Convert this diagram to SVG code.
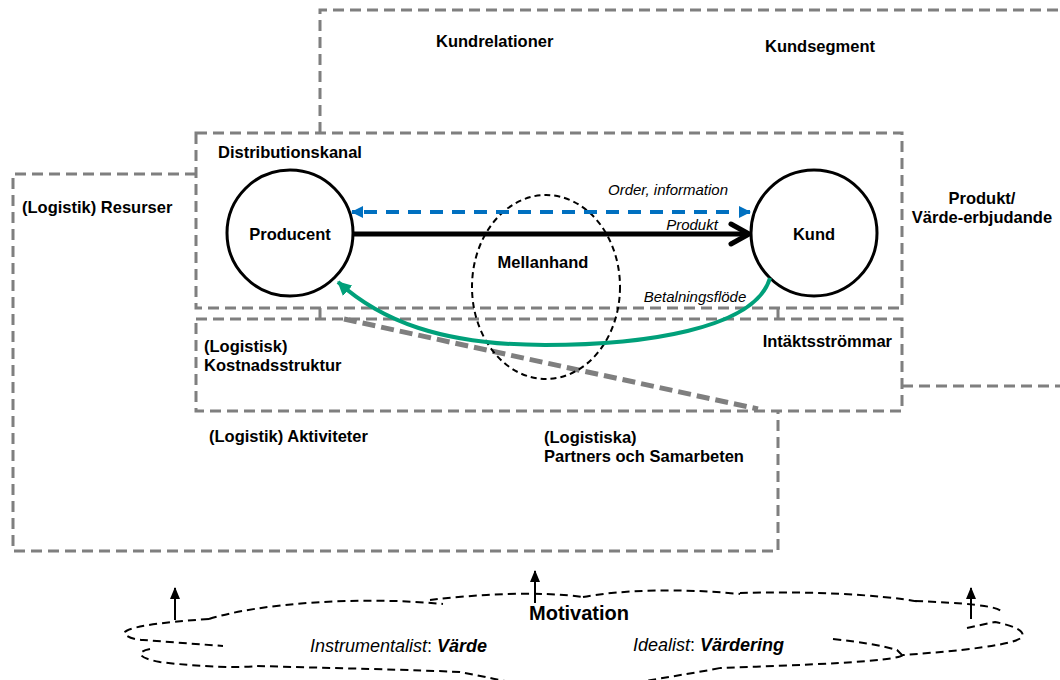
<svg xmlns="http://www.w3.org/2000/svg" width="1060" height="680" viewBox="0 0 1060 680">
<defs>
<style>
.box{fill:none;stroke:#7F7F7F;stroke-width:3;stroke-dasharray:11,6}
.lbl{font-family:"Liberation Sans",Arial,sans-serif;font-weight:bold;font-size:16.5px;fill:#000}
.it{font-family:"Liberation Sans",Arial,sans-serif;font-style:italic;font-size:15px;fill:#000}
.cl{fill:none;stroke:#000;stroke-width:2;stroke-dasharray:8,5}
.up{stroke:#000;stroke-width:2;fill:none}
</style>
<marker id="blueHead" viewBox="0 0 12 12" refX="11" refY="6" markerWidth="12" markerHeight="12" markerUnits="userSpaceOnUse" orient="auto-start-reverse"><path d="M0,0 L12,6 L0,12 z" fill="#0070C0"/></marker>
<marker id="greenHead" viewBox="0 0 14 14" refX="13" refY="7" markerWidth="14" markerHeight="14" markerUnits="userSpaceOnUse" orient="auto"><path d="M0,0 L14,7 L0,14 z" fill="#00A07A"/></marker>
<marker id="upHead" viewBox="0 0 10 12" refX="5" refY="1" markerWidth="10" markerHeight="12" markerUnits="userSpaceOnUse" orient="0"><path d="M5,0 L10,12 L0,12 z" fill="#000"/></marker>
</defs>
<rect width="1060" height="680" fill="#fff"/>

<g id="regions">
<path id="top-shape" class="box" d="M320 133 L320 10 L1064 10 M902 386 L1064 386"/>
<path id="outer-left" class="box" d="M196 174 L13 174 L13 551 L778 551 L778 411"/>
<rect id="distributionskanal" class="box" x="196" y="133" width="706" height="175"/>
<rect id="kostnad" class="box" x="196" y="319" width="706" height="92"/>
<path class="box" d="M320 308 L320 319 M778 308 L778 319"/>
<path id="diagonal" d="M344 319 L758 409" fill="none" stroke="#7F7F7F" stroke-width="5" stroke-dasharray="13,6"/>
</g>

<g id="texts">
<text class="lbl" x="436" y="47">Kundrelationer</text>
<text class="lbl" x="765" y="52">Kundsegment</text>
<text class="lbl" x="218" y="158">Distributionskanal</text>
<text class="lbl" x="22" y="213">(Logistik) Resurser</text>
<text class="lbl" x="982" y="204" text-anchor="middle">Produkt/</text>
<text class="lbl" x="982" y="223" text-anchor="middle">Värde-erbjudande</text>
<text class="lbl" x="204" y="352">(Logistisk)</text>
<text class="lbl" x="204" y="371">Kostnadsstruktur</text>
<text class="lbl" x="892" y="347" text-anchor="end">Intäktsströmmar</text>
<text class="lbl" x="209" y="442">(Logistik) Aktiviteter</text>
<text class="lbl" x="544" y="443">(Logistiska)</text>
<text class="lbl" x="544" y="462">Partners och Samarbeten</text>
</g>

<g id="node-mellanhand">
<ellipse cx="546" cy="287" rx="74" ry="92" fill="none" stroke="#000" stroke-width="2" stroke-dasharray="6,4"/>
<text class="lbl" x="543" y="268" text-anchor="middle">Mellanhand</text>
</g>
<g id="node-producent">
<circle cx="290" cy="233" r="63" fill="#fff" stroke="#000" stroke-width="3"/>
<text class="lbl" x="290" y="240" text-anchor="middle">Producent</text>
</g>
<g id="node-kund">
<circle cx="814" cy="233" r="63" fill="#fff" stroke="#000" stroke-width="3"/>
<text class="lbl" x="814" y="240" text-anchor="middle">Kund</text>
</g>

<g id="connectors">
<path d="M364 212 L738 212" fill="none" stroke="#0070C0" stroke-width="4" stroke-dasharray="13,9"/>
<path d="M352 212 L362 212 M740 212 L750 212" fill="none" stroke="#0070C0" stroke-width="4" marker-end="url(#blueHead)"/>
<path d="M362 212 L352 212" fill="none" stroke="#0070C0" stroke-width="4" marker-end="url(#blueHead)"/>
<path d="M353 234 L748 234" fill="none" stroke="#000" stroke-width="5"/>
<path d="M731 224 L749 234 L731 244" fill="none" stroke="#000" stroke-width="5" stroke-linecap="round" stroke-linejoin="round"/>
<path d="M770 278 C755 330 640 345 545 345 C440 345 380 320 338 282" fill="none" stroke="#00A07A" stroke-width="4" marker-end="url(#greenHead)"/>
<text class="it" x="668" y="195" text-anchor="middle">Order, information</text>
<text class="it" x="692" y="230" text-anchor="middle">Produkt</text>
<text class="it" x="695" y="302" text-anchor="middle">Betalningsflöde</text>
</g>

<g id="node-motivation">
<path class="cl" d="M209 619 C260 603 360 596 443 604"/>
<path class="cl" d="M430 600 C480 594 540 591 583 597"/>
<path class="cl" d="M583 597 C620 590 680 588 740 594"/>
<path class="cl" d="M740 593 C800 591 880 594 920 602"/>
<path class="cl" d="M915 601 C960 603 1000 605 1003 613"/>
<path class="cl" d="M967 628 L995 622 C1010 625 1026 630 1022 637 C1015 645 960 651 903 655"/>
<path class="cl" d="M833 639 C860 642 880 645 897 650 L903 656"/>
<path class="cl" d="M903 655 C895 662 800 665 720 668"/>
<path class="cl" d="M720 668 C700 672 680 675 640 682"/>
<path class="cl" d="M209 619 C160 622 120 628 125 634 C128 638 138 640 143 640 L223 646"/>
<path class="cl" d="M150 649 C135 652 138 658 160 662 C200 667 240 668 257 666 C330 668 420 670 460 672 C480 676 500 680 520 684"/>
<line class="up" x1="175" y1="620" x2="175" y2="588" marker-end="url(#upHead)"/>
<line class="up" x1="535" y1="603" x2="535" y2="571" marker-end="url(#upHead)"/>
<line class="up" x1="971" y1="619" x2="971" y2="588" marker-end="url(#upHead)"/>
<text x="579" y="620" text-anchor="middle" font-family="Liberation Sans, Arial, sans-serif" font-weight="bold" font-size="20">Motivation</text>
<text x="310" y="652" font-family="Liberation Sans, Arial, sans-serif" font-size="18"><tspan font-style="italic">Instrumentalist</tspan>: <tspan font-style="italic" font-weight="bold">Värde</tspan></text>
<text x="633" y="651" font-family="Liberation Sans, Arial, sans-serif" font-size="18"><tspan font-style="italic">Idealist</tspan>: <tspan font-style="italic" font-weight="bold">Värdering</tspan></text>
</g>
</svg>
